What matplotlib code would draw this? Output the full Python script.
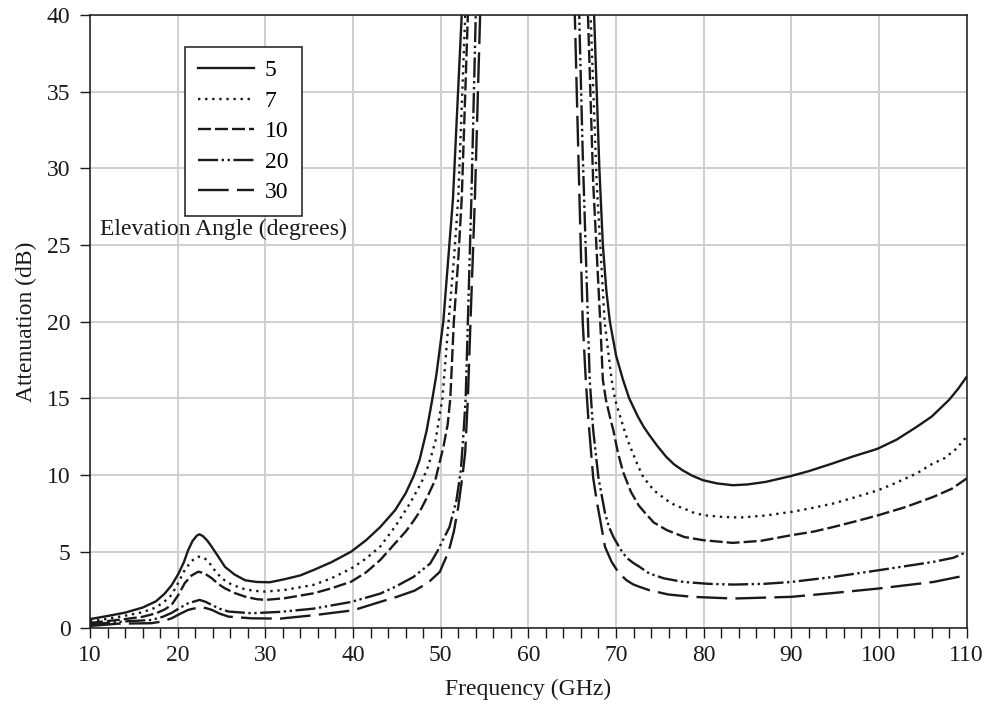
import numpy as np
import matplotlib
matplotlib.use("Agg")
import matplotlib.pyplot as plt
from matplotlib.ticker import MultipleLocator

plt.rcParams['font.family'] = ['Liberation Serif', 'DejaVu Serif']

# values; nan splits the branch below / above the 60 GHz band
nan = np.nan

# elevation 5 deg
f5 = [10, 12, 14, 16, 17.5, 18.5, 19.3, 20.1, 20.7, 21.2, 21.7, 22.2, 22.5, 22.9, 23.4, 23.9, 24.6,
      25.4, 26.5, 27.7, 29.0, 30.5, 32.2, 34.0, 35.5, 37.5, 39.8, 41.5, 43.1, 44.8, 46.0, 46.9, 47.6,
      48.4, 49.0, 49.5, 50.3, 51.4, 52.4, 52.6, nan,
      67.2, 67.5, 68.1, 68.5, 68.9, 69.3, 70.0, 70.8, 71.5, 72.5, 73.2, 73.8, 74.7, 75.7, 76.6, 77.6,
      78.7, 79.9, 81.5, 83.3, 85.0, 87.1, 89.9, 92.0, 94.7, 97.0, 99.8, 102.0, 104.2, 106.0, 108.0,
      109.0, 110]
a5 = [0.6, 0.8, 1.02, 1.35, 1.75, 2.25, 2.8, 3.57, 4.3, 5.1, 5.7, 6.05, 6.13, 6.0, 5.7, 5.3, 4.7,
      4.0, 3.5, 3.13, 3.02, 3.0, 3.2, 3.45, 3.8, 4.3, 5.0, 5.75, 6.6, 7.7, 8.8, 9.9, 11.0,
      12.9, 14.8, 16.5, 20, 28, 40, 43, nan,
      43, 40, 30, 25, 22, 20, 17.8, 16.2, 15.0, 13.8, 13.1, 12.6, 11.9, 11.2, 10.7, 10.3,
      9.95, 9.66, 9.45, 9.33, 9.38, 9.55, 9.92, 10.25, 10.75, 11.2, 11.7, 12.3, 13.1, 13.8, 14.9,
      15.6, 16.4]

# elevation 7 deg
f7 = [10, 12, 14, 16, 17.5, 18.5, 19.3, 20.1, 20.8, 21.6, 22.35, 23.0, 23.5, 24.2, 25.0, 26.0, 27.3,
      28.6, 30.0, 32.2, 35.5, 37.5, 39.8, 41.5, 43.1, 44.8, 46.5, 47.8, 48.6, 49.4, 50.2, 50.9, 51.5,
      52.0, 52.8, 53.0, nan,
      66.9, 67.1, 67.8, 68.7, 69.5, 69.9, 70.8, 71.3, 72.5, 73.1, 74.3, 75.8, 76.8, 77.8, 78.8, 80.0,
      82.0, 84.1, 87.0, 90.0, 92.0, 94.8, 97.0, 99.9, 102.0, 104.3, 106.0, 107.5, 108.8, 110]
a7 = [0.45, 0.62, 0.82, 1.05, 1.35, 1.75, 2.17, 3.0, 3.8, 4.4, 4.67, 4.6, 4.35, 3.8, 3.26, 2.9, 2.6,
      2.45, 2.39, 2.5, 2.83, 3.25, 3.9, 4.55, 5.33, 6.63, 8.15, 9.5, 10.6, 12.2, 15, 20, 24,
      28, 40, 43, nan,
      43, 40, 29, 20, 16.2, 14.9, 13.2, 12.3, 10.6, 9.87, 9.0, 8.35, 8.0, 7.8, 7.55, 7.37,
      7.27, 7.22, 7.35, 7.59, 7.8, 8.14, 8.5, 9.0, 9.5, 10.1, 10.7, 11.1, 11.7, 12.5]

# elevation 10 deg
f10 = [10, 12, 14, 16, 17.5, 18.5, 19.3, 20.1, 20.8, 21.6, 22.35, 23.0, 23.9, 24.6, 25.4, 26.5, 27.7,
       29.0, 30.0, 32.2, 35.5, 37.5, 39.8, 41.5, 43.1, 44.8, 46.0, 46.9, 47.6, 48.5, 49.4, 50.3, 50.8,
       51.1, 51.5, 52.0, 52.4, 53.1, 53.3, nan,
       66.6, 66.8, 67.4, 68.2, 68.5, 68.85, 69.3, 69.7, 70.2, 70.8, 71.7, 72.6, 73.2, 74.3, 75.8, 77.8,
       80.0, 83.3, 86.5, 90.0, 92.5, 94.75, 97.5, 99.9, 103.0, 106.2, 108.3, 110]
a10 = [0.35, 0.47, 0.6, 0.75, 0.97, 1.22, 1.52, 2.2, 2.94, 3.45, 3.69, 3.6, 3.26, 2.9, 2.6, 2.3, 2.06,
       1.9, 1.85, 1.96, 2.28, 2.6, 3.04, 3.65, 4.45, 5.54, 6.3, 7.0, 7.6, 8.6, 9.7, 11.8, 13.3,
       15, 20, 24, 28, 40, 43, nan,
       43, 40, 29, 20, 16.2, 14.9, 13.8, 12.9, 11.5, 10.2, 8.9, 8.0, 7.6, 6.9, 6.4, 5.95,
       5.74, 5.57, 5.7, 6.07, 6.3, 6.6, 7.0, 7.37, 7.9, 8.57, 9.1, 9.77]

# elevation 20 deg
f20 = [10, 12, 14, 17.0, 18.3, 19.3, 20.3, 21.2, 22.5, 23.2, 23.9, 24.8, 25.8, 28.4, 31.7, 35.5,
       39.8, 43.1, 44.8, 46.9, 48.8, 49.6, 50.3, 51.0, 51.8, 52.3, 52.6, 52.85, 53.1, 53.5, 54.0, 54.2, nan,
       65.6, 65.8, 66.2, 66.8, 67.0, 67.4, 68.0, 68.75, 69.2, 69.7, 70.45, 71.2, 72.0, 72.7, 73.8, 75.5,
       77.7, 80.5, 83.4, 87.0, 90.0, 94.8, 99.9, 103.0, 106.2, 108.5, 110]
a20 = [0.25, 0.35, 0.45, 0.54, 0.75, 1.0, 1.35, 1.63, 1.85, 1.72, 1.52, 1.27, 1.09, 0.98, 1.07, 1.28,
       1.72, 2.26, 2.7, 3.35, 4.22, 5.0, 5.8, 6.6, 8.35, 10.3, 12.7, 15, 20, 28, 40, 43, nan,
       43, 40, 31, 20, 16.2, 12.9, 9.8, 7.5, 6.6, 5.96, 5.2, 4.6, 4.25, 4.0, 3.57, 3.25,
       3.02, 2.9, 2.85, 2.9, 3.02, 3.35, 3.78, 4.05, 4.33, 4.6, 4.98]

# elevation 30 deg
f30 = [10, 13.2, 17.0, 18.3, 19.3, 20.3, 21.2, 22.5, 23.2, 23.9, 24.8, 25.8, 28.4, 31.7, 35.5, 40.0,
       43.1, 45.0, 47.0, 48.5, 49.9, 50.9, 51.5, 52.0, 52.5, 52.8, 53.1, 53.4, 53.9, 54.5, 54.7, nan,
       65.1, 65.3, 65.7, 66.2, 66.55, 66.85, 67.4, 67.8, 68.2, 68.75, 69.5, 70.1, 70.8, 71.2, 72.0, 72.7,
       73.8, 76.0, 78.7, 83.4, 90.0, 94.8, 99.9, 106.2, 110]
a30 = [0.15, 0.3, 0.33, 0.45, 0.65, 0.95, 1.2, 1.37, 1.32, 1.2, 0.95, 0.76, 0.65, 0.63, 0.85, 1.17,
       1.72, 2.05, 2.45, 2.94, 3.68, 5.0, 6.3, 7.9, 10.0, 11.5, 15, 20, 28, 40, 43, nan,
       43, 40, 31, 20, 16.2, 13.6, 9.8, 8.3, 7.05, 5.3, 4.33, 3.8, 3.35, 3.13, 2.85, 2.7,
       2.48, 2.2, 2.05, 1.94, 2.05, 2.3, 2.59, 3.02, 3.46]

labels = ['5', '7', '10', '20', '30']
styles = ['-', (0, (1, 2)), (0, (5.5, 1.7)), (0, (8.5, 1.5, 1, 1.5, 1, 1.5)), (0, (13, 3.5))]

fig = plt.figure(figsize=(9.86, 7.03), dpi=100)
ax = fig.add_axes([0.0913, 0.1063, 0.8891, 0.8724])

ink = '#1a1a1a'
for f, a, lab, ls in zip([f5, f7, f10, f20, f30], [a5, a7, a10, a20, a30], labels, styles):
    ax.plot(f, a, color=ink, lw=1.7, linestyle=ls, label=lab)

ax.set_xlim(10, 110)
ax.set_ylim(0, 40)
ax.xaxis.set_major_locator(MultipleLocator(10))
ax.xaxis.set_minor_locator(MultipleLocator(2))
ax.yaxis.set_major_locator(MultipleLocator(5))
ax.tick_params(axis='both', which='both', direction='out', length=7, width=1.0,
               labelsize=17, color=ink, labelcolor=ink)
ax.tick_params(axis='x', pad=5)
ax.tick_params(axis='y', pad=7)
ax.grid(True, which='major', color='#cfcfcf', lw=1.4)
ax.set_axisbelow(True)
for s in ax.spines.values():
    s.set_color(ink)
    s.set_linewidth(1.1)

ax.set_xlabel('Frequency (GHz)', fontsize=17, color=ink, labelpad=9)
ax.set_ylabel('Attenuation (dB)', fontsize=17, color=ink, labelpad=7)

leg = ax.legend(loc='upper left', bbox_to_anchor=(0.108, 0.948), borderaxespad=0,
                fontsize=17, handlelength=2.4, labelspacing=0.38, fancybox=False,
                framealpha=1, edgecolor=ink, borderpad=0.55, handletextpad=0.45)
leg.get_frame().set_linewidth(1.1)

ax.text(11.1, 26.0, 'Elevation Angle (degrees)', fontsize=17, color=ink, va='center', ha='left')

fig.savefig('out.png', dpi=100)
